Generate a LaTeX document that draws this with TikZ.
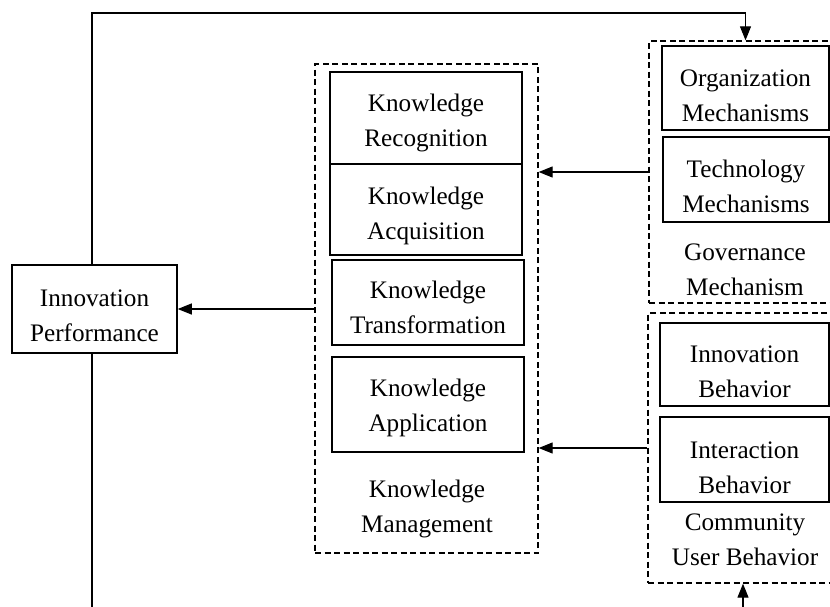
\documentclass[tikz,border=0pt]{standalone}
\usepackage{fontspec}
\setmainfont{Liberation Serif}
\usetikzlibrary{arrows.meta}
\newcommand\dn[1]{\rule{0pt}{\dimexpr17.3pt+#1pt+#1pt\relax}}
\begin{document}
\begin{tikzpicture}[x=1pt,y=-1pt,
  txt/.style={align=center,inner sep=0pt,font=\fontsize{25.2}{35}\selectfont},
  solidbox/.style={txt,draw=black,line width=1.5pt},
  dashbox/.style={draw=black,line width=1.3pt,dash pattern=on 6pt off 3.5pt,inner sep=0pt},
  arr/.style={-{Triangle[length=14pt,width=11pt]},line width=1.1pt},
  link/.style={line width=1.1pt}]
\fill[white] (0,0) rectangle (830,606);
\useasboundingbox (0,0) rectangle (830,606);
% left
\node[solidbox,minimum width=165pt,minimum height=88pt] (ip) at (94.5,309) {\dn{6}Innovation\\Performance};
% knowledge management
\node[dashbox,minimum width=223pt,minimum height=489pt] (km) at (426.5,308.5) {};
\node[solidbox,minimum width=192pt,minimum height=92pt] (rec) at (426,118) {\dn{5}Knowledge\\Recognition};
\node[solidbox,minimum width=192pt,minimum height=91pt] (acq) at (426,209.5) {\dn{7}Knowledge\\Acquisition};
\node[solidbox,minimum width=192pt,minimum height=85pt] (tra) at (428,302.5) {\dn{5}Knowledge\\Transformation};
\node[solidbox,minimum width=192pt,minimum height=95pt] (app) at (428,404.5) {\dn{4}Knowledge\\Application};
\node[txt] (kml) at (427,509) {Knowledge\\Management};
% governance
\node[dashbox,minimum width=191pt,minimum height=262pt] (gov) at (744.5,172) {};
\node[solidbox,minimum width=167pt,minimum height=84pt] (org) at (745.5,88) {\dn{7}Organization\\Mechanisms};
\node[solidbox,minimum width=166pt,minimum height=85pt] (tec) at (746,179.5) {\dn{7}Technology\\Mechanisms};
\node[txt] (govl) at (745,269.5) {Governance\\Mechanism};
% community
\node[dashbox,minimum width=192pt,minimum height=270pt] (comm) at (744,448) {};
\node[solidbox,minimum width=169pt,minimum height=83pt] (inb) at (744.5,364.5) {\dn{7}Innovation\\Behavior};
\node[solidbox,minimum width=169pt,minimum height=85pt] (inter) at (744.5,459.5) {\dn{8}Interaction\\Behavior};
\node[txt] (comml) at (745,540) {Community\\User Behavior};
% connectors
\coordinate (topc) at (0,13);
\coordinate (bl) at (92,612);
\coordinate (br) at (743,612);
\draw[arr] ([xshift=-2.5pt]ip.north) -- ([xshift=-2.5pt]ip.north |- topc) -| (org.north |- gov.north);
\draw[link] ([xshift=-2.5pt]ip.south) -- (bl);
\draw[arr] (br) -- (br |- comm.south);
\draw[arr] (km.west |- ip.east) -- (ip.east);
\draw[arr] (gov.west) -- (gov.west -| km.east);
\draw[arr] (comm.west) -- (comm.west -| km.east);
\end{tikzpicture}
\end{document}
